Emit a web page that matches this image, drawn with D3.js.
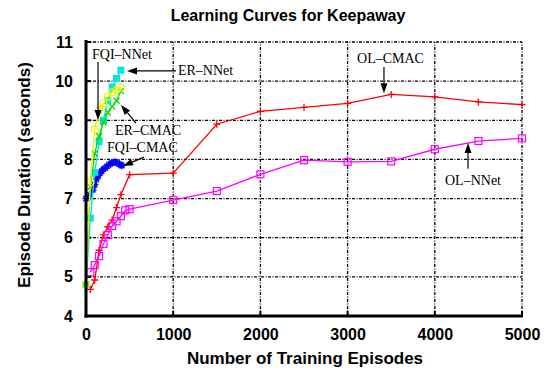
<!DOCTYPE html>
<html><head><meta charset="utf-8">
<script src="https://cdn.jsdelivr.net/npm/d3@7"></script>
<style>body{margin:0;background:#fff} svg{display:block}</style>
</head><body><svg id="c" width="552" height="373"></svg>
<script>
// ---- data ----
const xTicks=[0,1000,2000,3000,4000,5000];
const yTicks=[4,5,6,7,8,9,10,11];

const olCmacX=[50,100,150,200,250,300,350,400,500,1000,1500,2000,2500,3000,3500,4000,4500,5000];
const olCmacY=[4.68,4.92,5.68,6.07,6.28,6.45,6.77,7.1,7.61,7.65,8.9,9.23,9.33,9.43,9.66,9.6,9.47,9.4];

const olNnetX=[50,100,150,200,250,300,350,400,450,500,1000,1500,2000,2500,3000,3500,4000,4500,5000];
const olNnetY=[5.12,5.3,5.53,5.84,6.07,6.3,6.42,6.55,6.7,6.73,6.96,7.19,7.62,7.98,7.94,7.95,8.26,8.47,8.54];

const fqiCmacX=[0,40,80,100,120,140,160,180,200,220,240,260,280,300,320,340,360,380,400,410];
const fqiCmacY=[7.0,7.1,7.22,7.35,7.5,7.58,7.65,7.7,7.75,7.78,7.82,7.86,7.89,7.91,7.93,7.93,7.91,7.88,7.86,7.84];

const erNnetX=[0,50,100,150,200,250,300,350,400];
const erNnetY=[4.8,6.5,7.67,8.45,9.0,9.5,9.85,10.07,10.28];

const fqiNnetX=[0,50,100,150,200,250,300,350,400];
const fqiNnetY=[4.8,7.42,8.77,9.26,9.43,9.6,9.72,9.77,9.84];

const erCmacX=[0,50,100,150,200,250,300,350,400];
const erCmacY=[4.8,7.3,8.15,8.6,8.95,9.2,9.35,9.5,9.75];

// ---- chart ----
const svg=d3.select("#c");
const x=d3.scaleLinear().domain([0,5000]).range([86,522]);
const y=d3.scaleLinear().domain([4,11]).range([316,42]);

const sans="'Liberation Sans', Arial, Helvetica, sans-serif";
const serif="'Liberation Serif', 'Times New Roman', serif";

// grid
const g=svg.append("g");
g.selectAll("line.vg").data(xTicks.filter(d=>d>0)).enter().append("line")
  .attr("x1",d=>x(d)).attr("x2",d=>x(d)).attr("y1",y(4)).attr("y2",y(11))
  .attr("stroke","#000").attr("stroke-width",1.3).attr("stroke-dasharray","3,1.5,1,1.5");
g.selectAll("line.hg").data(yTicks.filter(d=>d>4)).enter().append("line")
  .attr("y1",d=>y(d)).attr("y2",d=>y(d)).attr("x1",x(0)).attr("x2",x(5000))
  .attr("stroke","#000").attr("stroke-width",1.3).attr("stroke-dasharray","3,1.5,1,1.5");

// axes
const fmt=d3.format("d");
const xa=d3.axisBottom(x).tickValues(xTicks).tickFormat(fmt).tickSize(0).tickPadding(14);
const ya=d3.axisLeft(y).tickValues(yTicks).tickFormat(fmt).tickSize(0).tickPadding(13);
const gx=svg.append("g").attr("transform",`translate(0,${y(4)})`).call(xa);
const gy=svg.append("g").attr("transform",`translate(${x(0)},0)`).call(ya);
[gx,gy].forEach(a=>{
  a.select(".domain").remove();
  a.selectAll("text").attr("font-family",sans).attr("font-weight","bold").attr("font-size",16).attr("fill","#000");
});
gx.selectAll("text").attr("dy","0.6em");
// inward tick marks
svg.selectAll("line.xt").data(xTicks).enter().append("line")
  .attr("x1",d=>x(d)).attr("x2",d=>x(d)).attr("y1",y(4)).attr("y2",y(4)-5)
  .attr("stroke","#000").attr("stroke-width",2);
svg.selectAll("line.yt").data(yTicks).enter().append("line")
  .attr("y1",d=>y(d)).attr("y2",d=>y(d)).attr("x1",x(0)).attr("x2",x(0)+5)
  .attr("stroke","#000").attr("stroke-width",2);

// series
const series=[
  {xs:olCmacX,ys:olCmacY,color:"#ff0000",mk:"plus"},
  {xs:olNnetX,ys:olNnetY,color:"#ff00ff",mk:"square"},
  {xs:fqiCmacX,ys:fqiCmacY,color:"#0000ff",mk:"star"},
  {xs:erNnetX,ys:erNnetY,color:"#00e5e5",mk:"fsquare"},
  {xs:erCmacX,ys:erCmacY,color:"#00dd00",mk:"x"},
  {xs:fqiNnetX,ys:fqiNnetY,color:"#f0f000",mk:"circle"}
];
const line=d3.line().x(d=>x(d[0])).y(d=>y(d[1]));
series.forEach(s=>{
  const pts=s.xs.map((v,i)=>[v,s.ys[i]]);
  const sg=svg.append("g");
  sg.append("path").datum(pts).attr("d",line).attr("fill","none").attr("stroke",s.color).attr("stroke-width",1.3);
  const m=sg.selectAll("g").data(pts).enter().append("g").attr("transform",d=>`translate(${x(d[0])},${y(d[1])})`);
  const r=3.5;
  if(s.mk==="plus"){
    m.append("path").attr("d",`M${-r},0H${r}M0,${-r}V${r}`).attr("stroke",s.color).attr("stroke-width",1.3);
  } else if(s.mk==="x"){
    m.append("path").attr("d",`M${-3},${-3}L3,3M-3,3L3,-3`).attr("stroke",s.color).attr("stroke-width",1.3);
  } else if(s.mk==="star"){
    m.append("path").attr("d",`M${-r},0H${r}M0,${-r}V${r}M-2.6,-2.6L2.6,2.6M-2.6,2.6L2.6,-2.6`).attr("stroke",s.color).attr("stroke-width",1.5);
  } else if(s.mk==="square"){
    m.append("rect").attr("x",-r).attr("y",-r).attr("width",2*r).attr("height",2*r).attr("fill","none").attr("stroke",s.color).attr("stroke-width",1.2);
  } else if(s.mk==="fsquare"){
    m.append("rect").attr("x",-r).attr("y",-r).attr("width",2*r).attr("height",2*r).attr("fill",s.color);
  } else if(s.mk==="circle"){
    m.append("circle").attr("r",r).attr("fill","none").attr("stroke",s.color).attr("stroke-width",1.3);
  }
});

// main axes lines (thick)
svg.append("line").attr("x1",x(0)).attr("x2",x(0)).attr("y1",y(11)-2).attr("y2",y(4)+1.5).attr("stroke","#000").attr("stroke-width",3);
svg.append("line").attr("x1",x(0)-1.5).attr("x2",x(5000)+1).attr("y1",y(4)).attr("y2",y(4)).attr("stroke","#000").attr("stroke-width",3);

// annotations (data coordinates)
const annotations=[
  {text:"FQI\u2013NNet",tx:69,ty:10.57,ax1:138,ay1:10.49,ax2:138,ay2:9.01},
  {text:"ER\u2013NNet",tx:1055,ty:10.16,ax1:1032,ay1:10.26,ax2:470,ay2:10.26},
  {text:"ER\u2013CMAC",tx:333,ty:8.62,ax1:573,ay1:8.93,ax2:401,ay2:9.39},
  {text:"FQI\u2013CMAC",tx:241,ty:8.19,ax1:665,ay1:8.06,ax2:424,ay2:7.83},
  {text:"OL\u2013CMAC",tx:3108,ty:10.46,ax1:3417,ay1:10.36,ax2:3417,ay2:9.69},
  {text:"OL\u2013NNet",tx:4117,ty:7.35,ax1:4381,ay1:7.76,ax2:4381,ay2:8.42}
];
annotations.forEach(a=>{
  svg.append("text").attr("x",x(a.tx)).attr("y",y(a.ty)).text(a.text)
    .attr("font-family",serif).attr("font-size",14).attr("fill","#000");
  const x1=x(a.ax1),y1=y(a.ay1),x2=x(a.ax2),y2=y(a.ay2);
  const ang=Math.atan2(y2-y1,x2-x1), L=10, W=3.5;
  const bx=x2-L*Math.cos(ang), by=y2-L*Math.sin(ang);
  svg.append("line").attr("x1",x1).attr("y1",y1).attr("x2",bx).attr("y2",by).attr("stroke","#000").attr("stroke-width",1.2);
  const p1=[bx+W*Math.sin(ang),by-W*Math.cos(ang)], p2=[bx-W*Math.sin(ang),by+W*Math.cos(ang)];
  svg.append("path").attr("d",`M${x2},${y2}L${p1[0]},${p1[1]}L${p2[0]},${p2[1]}Z`).attr("fill","#000");
});

// titles
svg.append("text").attr("x",288).attr("y",21).attr("text-anchor","middle").text("Learning Curves for Keepaway")
  .attr("font-family",sans).attr("font-weight","bold").attr("font-size",16);
svg.append("text").attr("x",305).attr("y",364).attr("text-anchor","middle").text("Number of Training Episodes")
  .attr("font-family",sans).attr("font-weight","bold").attr("font-size",17);
svg.append("text").attr("transform","translate(30,175) rotate(-90)").attr("text-anchor","middle").text("Episode Duration (seconds)")
  .attr("font-family",sans).attr("font-weight","bold").attr("font-size",17);
</script></body></html>
